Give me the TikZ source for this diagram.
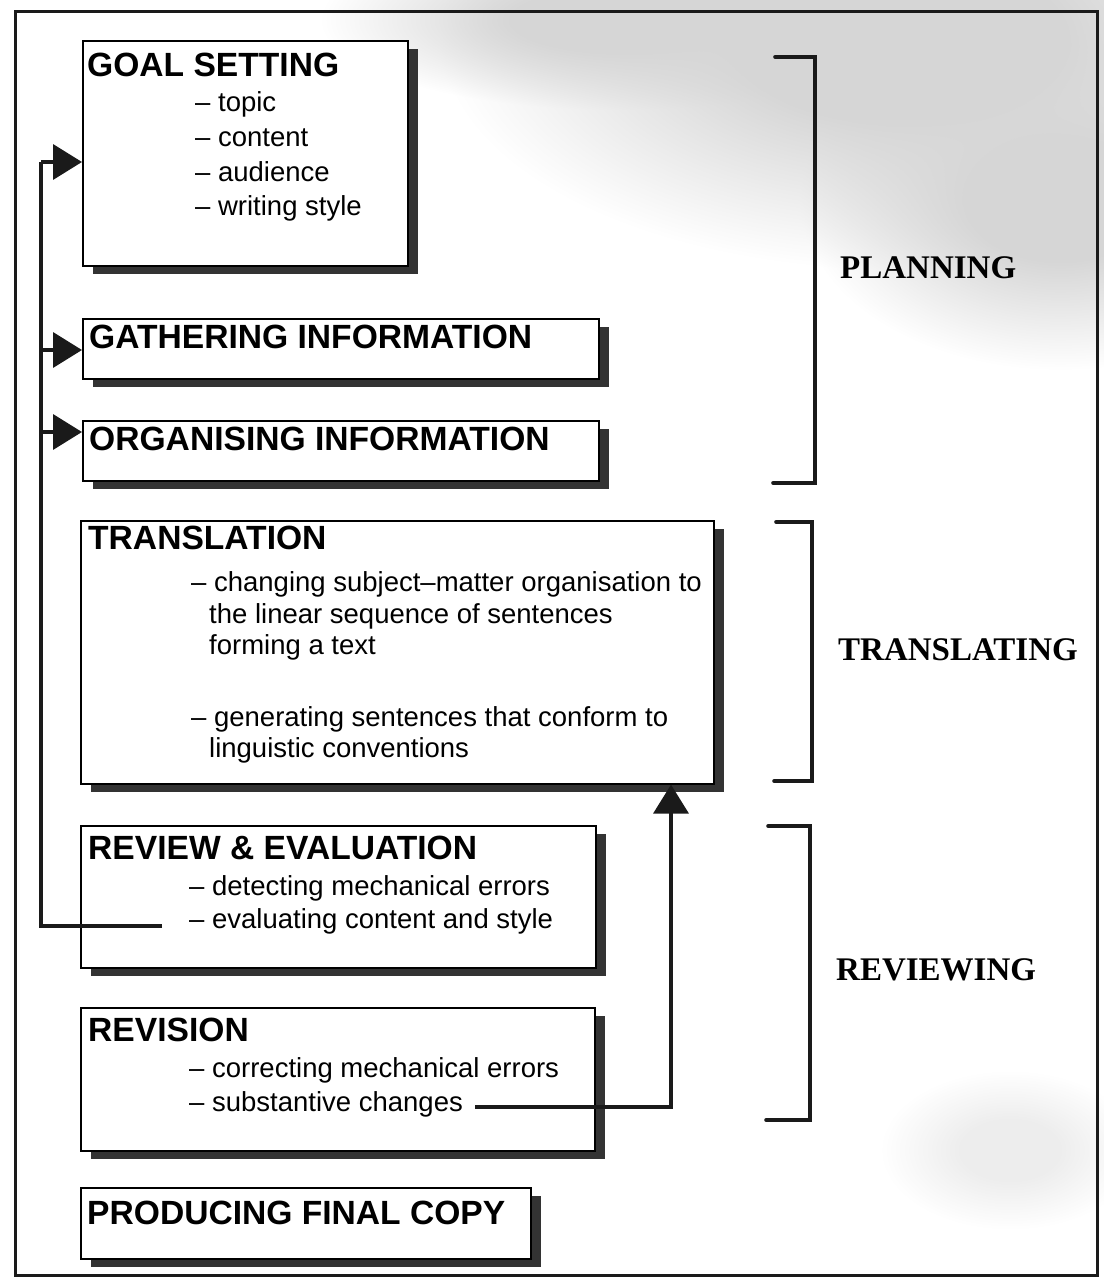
\documentclass[tikz,border=0pt]{standalone}
\usepackage{fontspec}
\setmainfont{Liberation Sans}
\newfontfamily\phasefont{Liberation Serif}
\usetikzlibrary{shadows,fadings,arrows.meta}

\definecolor{ink}{HTML}{1A1A1A}
\definecolor{shade}{HTML}{333333}
\definecolor{haze}{HTML}{D6D6D6}

% radial fading that stays opaque in its middle and softens over a wide rim
\pgfdeclareradialshading{softrim}{\pgfpointorigin}{%
  color(0bp)=(pgftransparent!0); color(9bp)=(pgftransparent!0);
  color(25bp)=(pgftransparent!100); color(50bp)=(pgftransparent!100)}
\pgfdeclarefading{softrim}{\pgfuseshading{softrim}}

\tikzset{
  stagebox/.style={draw=black, line width=1.6pt, fill=white, rectangle,
    anchor=north west, inner sep=0pt,
    drop shadow={shadow xshift=10pt, shadow yshift=-8pt, fill=shade, opacity=1}},
  stagetitle/.style={anchor=base west, inner sep=0pt, font=\bfseries\fontsize{33.6}{36}\selectfont},
  item/.style={anchor=base west, inner sep=0pt, font=\fontsize{27.5}{32}\selectfont},
  phase/.style={anchor=base west, inner sep=0pt, font=\phasefont\bfseries\fontsize{33}{36}\selectfont},
  conn/.style={draw=ink, line width=3.6pt},
  tip/.style={-{Triangle[length=29pt,width=35pt]}},
  bracket/.style={draw=ink, line width=3.6pt, line cap=round, line join=miter},
  cloud/.style={fill=haze, path fading=softrim}
}

\begin{document}
\begin{tikzpicture}[x=1pt,y=-1pt]
\useasboundingbox (0,0) rectangle (1103,1281);

% speckled grey haze across the upper right
\fill[cloud] (900,40) ellipse [x radius=460, y radius=230];
\fill[cloud] (1060,200) ellipse [x radius=260, y radius=170];
\fill[cloud] (620,20) ellipse [x radius=300, y radius=90];
\fill[cloud, opacity=0.45] (1010,1150) ellipse [x radius=130, y radius=80];

% outer frame
\draw[ink, line width=3pt] (15,12) rectangle (1097,1275);

% stage boxes
\node[stagebox, minimum width=325, minimum height=225] (goal)   at (82,40)  {};
\node[stagebox, minimum width=516, minimum height=60]  (gather) at (82,318) {};
\node[stagebox, minimum width=516, minimum height=60]  (organ)  at (82,420) {};
\node[stagebox, minimum width=633, minimum height=263] (transl) at (80,520) {};
\node[stagebox, minimum width=515, minimum height=142] (review) at (80,825) {};
\node[stagebox, minimum width=514, minimum height=143] (revis)  at (80,1007) {};
\node[stagebox, minimum width=450, minimum height=71]  (final)  at (80,1187) {};

% goal setting
\node[stagetitle] (goalT) at (87,77) {GOAL SETTING};
\node[item] (g1) at (195,112) {– topic};
\node[item] (g2) at (195,147) {– content};
\node[item] (g3) at (195,182) {– audience};
\node[item] (g4) at (195,216) {– writing style};

\node[stagetitle] (gatherT) at (89,348) {GATHERING INFORMATION};
\node[stagetitle] (organT)  at (89,450) {ORGANISING INFORMATION};

% translation
\node[stagetitle] (translT) at (88,549) {TRANSLATION};
\node[item] (t1) at (191,591) {– changing subject–matter organisation to};
\node[item] (t2) at (209,623) {the linear sequence of sentences};
\node[item] (t3) at (209,654) {forming a text};
\node[item] (t4) at (191,726) {– generating sentences that conform to};
\node[item] (t5) at (209,757) {linguistic conventions};

% review and evaluation
\node[stagetitle] (reviewT) at (88,859) {REVIEW \& EVALUATION};
\node[item] (r1) at (189,895) {– detecting mechanical errors};
\node[item] (r2) at (189,928) {– evaluating content and style};

% revision
\node[stagetitle] (revisT) at (88,1041) {REVISION};
\node[item] (v1) at (189,1077) {– correcting mechanical errors};
\node[item] (v2) at (189,1111) {– substantive changes};

\node[stagetitle] (finalT) at (87,1224) {PRODUCING FINAL COPY};

% feedback from review back to the planning stages
\coordinate (fbstart) at (162,926);
\coordinate (spine)   at (41,162);
\coordinate (brG)     at (41,350);
\coordinate (brO)     at (41,432);
\draw[conn, line join=miter] (fbstart) -| (spine);
\draw[conn, tip] (spine) -- (spine -| goal.west);
\draw[conn, tip] (brG) -- (brG -| gather.west);
\draw[conn, tip] (brO) -- (brO -| organ.west);

% substantive changes return to translation
\coordinate (rvstart) at (475,1107);
\coordinate (rvturn)  at (671,1107);
\draw[conn, line join=miter, tip] (rvstart) -- (rvturn) -- (rvturn |- transl.south);

% phase brackets
\draw[bracket] (775,57) -- (815,57) -- (815,483) -- (773,483);
\draw[bracket] (776,522) -- (812,522) -- (812,781) -- (774,781);
\draw[bracket] (768,826) -- (810,826) -- (810,1120) -- (766,1120);

\node[phase] (planning)    at (840,278) {PLANNING};
\node[phase] (translating) at (838,660) {TRANSLATING};
\node[phase] (reviewing)   at (836,980) {REVIEWING};
\end{tikzpicture}
\end{document}
